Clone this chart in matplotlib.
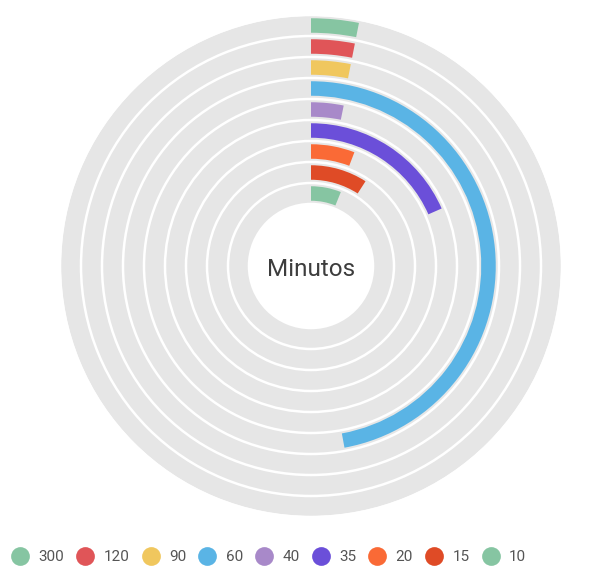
"""
Radial bar chart of minutes, one ring per category
"""

import numpy as np
import matplotlib
matplotlib.use('Agg')
import matplotlib.pyplot as plt
from matplotlib.lines import Line2D

plt.rcParams['font.family'] = ['Roboto', 'DejaVu Sans']

# categories, outer ring first
categorias = ['300', '120', '90', '60', '40', '35', '20', '15', '10']
valores = [3.1, 3.1, 3.1, 47.1, 3.2, 18.4, 5.8, 9.1, 6.1]   # percent of a full turn
colores = ['#86c5a2', '#e05558', '#f0c75e', '#5ab4e5', '#a889c9',
           '#6b4fd9', '#fa6a36', '#df4b26', '#86c5a2']
escala_max = 100.0

def main():
    fig = plt.figure(figsize=(5.99, 5.67), dpi=100)

    # polar axes: 500 px wide, centre at (311, 266) from top-left
    W, H = 599., 567.
    R = 250.
    cx, cy = 311., H - 266.
    ax = fig.add_axes([(cx - R) / W, (cy - R) / H, 2 * R / W, 2 * R / H],
                      projection='polar')
    ax.set_theta_zero_location('N')
    ax.set_theta_direction(-1)
    ax.set_ylim(0, R)

    n = len(categorias)
    paso = 21.0
    radios = [72.5 + paso * (n - 1 - i) for i in range(n)]

    # grey tracks
    ax.barh(radios, [2 * np.pi] * n, height=18.5, left=0,
            color='#e6e6e6', linewidth=0)

    # value bars
    theta = [v / escala_max * 2 * np.pi for v in valores]
    ax.barh(radios, theta, height=14.5, left=0, color=colores, linewidth=0)

    # label a little below the centre
    ax.text(np.pi, 3, 'Minutos', ha='center', va='center', fontsize=17.5,
            color='#3d3d3d')

    ax.grid(False)
    ax.set_xticks([])
    ax.set_yticks([])
    ax.spines['polar'].set_visible(False)
    ax.patch.set_alpha(0)

    handles = [Line2D([], [], linestyle='none', marker='o', markersize=13.5,
                      markerfacecolor=c, markeredgewidth=0) for c in colores]
    fig.legend(handles, categorias, loc='center left',
               bbox_to_anchor=(11 / W, 1 - 557 / H), ncol=n, frameon=False,
               fontsize=11, labelcolor='#555555', handlelength=1.2,
               handletextpad=0.6, columnspacing=0.78, borderpad=0,
               borderaxespad=0)

    fig.savefig('out.png', dpi=100)


if __name__ == '__main__':
    main()
